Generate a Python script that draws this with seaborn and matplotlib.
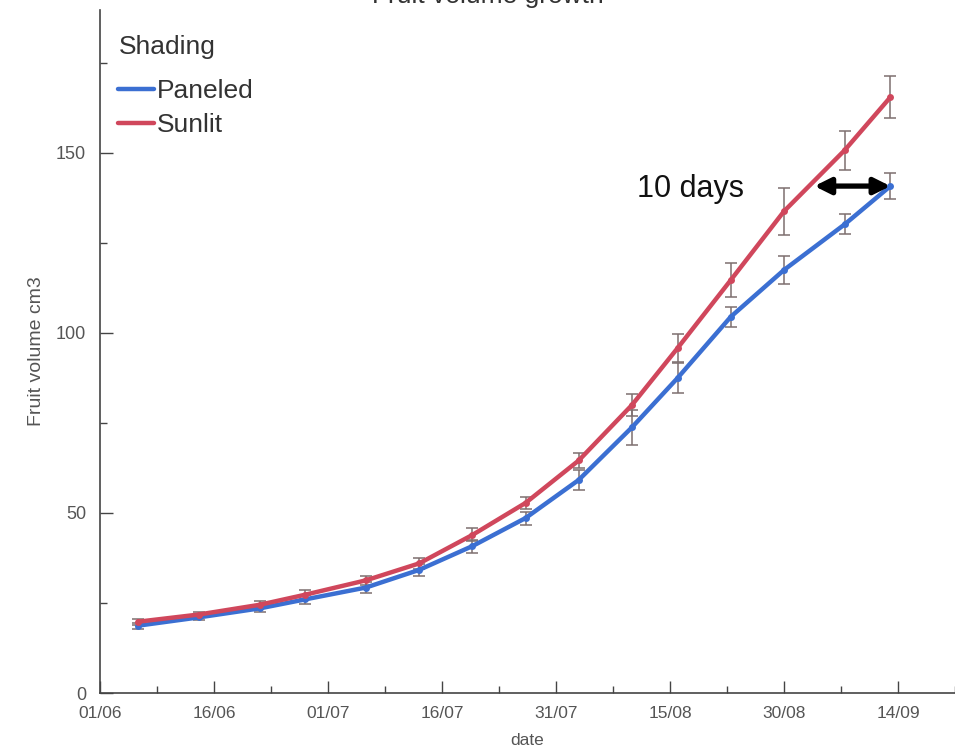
import matplotlib
matplotlib.use("Agg")
import matplotlib.pyplot as plt
import matplotlib.dates as mdates
import numpy as np
import pandas as pd
import seaborn as sns

# Measurement dates and mean fruit volume (cm3) with error half-widths
dates = ["2021-06-06", "2021-06-14", "2021-06-22", "2021-06-28", "2021-07-06",
         "2021-07-13", "2021-07-20", "2021-07-27", "2021-08-03", "2021-08-10",
         "2021-08-16", "2021-08-23", "2021-08-30", "2021-09-07", "2021-09-13"]
paneled = [18.7, 21.0, 23.5, 26.0, 29.3, 34.2, 40.8, 48.6, 59.2, 73.8,
           87.5, 104.5, 117.5, 130.2, 140.8]
paneled_err = [0.8, 0.8, 1.0, 1.2, 1.4, 1.6, 1.8, 1.8, 2.8, 4.9,
               4.2, 2.8, 3.9, 2.8, 3.6]
sunlit = [19.8, 21.8, 24.5, 27.3, 31.3, 36.0, 43.9, 52.8, 64.6, 80.0,
          95.8, 114.7, 133.8, 150.8, 165.5]
sunlit_err = [0.8, 0.8, 1.0, 1.2, 1.3, 1.5, 1.8, 1.6, 2.0, 3.0,
              3.9, 4.7, 6.5, 5.4, 5.8]
groups = ["Paneled", "Sunlit"]
colors = ["#3b6fd2", "#d0475c"]
tick_dates = ["2021-06-01", "2021-06-16", "2021-07-01", "2021-07-16",
              "2021-07-31", "2021-08-15", "2021-08-30", "2021-09-14"]
gap_days = 10

df = pd.DataFrame({
    "date": pd.to_datetime(dates * 2),
    "volume": paneled + sunlit,
    "err": paneled_err + sunlit_err,
    "Shading": [groups[0]] * len(dates) + [groups[1]] * len(dates),
})

sns.set_style("white")
plt.rcParams["font.family"] = ["Liberation Sans", "DejaVu Sans"]

fig = plt.figure(figsize=(9.55, 7.54), dpi=100)
ax = fig.add_axes([0.1047, 0.0809, 0.8953, 0.9058])

palette = dict(zip(groups, colors))
for g in groups:
    sub = df[df["Shading"] == g]
    ax.errorbar(sub["date"], sub["volume"], yerr=sub["err"], fmt="none",
                ecolor="#7d6f6f", elinewidth=1.1, capsize=4, capthick=1.1,
                zorder=2)
sns.lineplot(data=df, x="date", y="volume", hue="Shading", palette=palette,
             linewidth=3.2, marker="o", markersize=5, markeredgewidth=0,
             ax=ax, zorder=3)

# Axes limits and ticks
ticks = pd.to_datetime(tick_dates)
ax.set_xlim(ticks[0], ticks[0] + pd.Timedelta(days=111.8))
ax.set_ylim(0, 189.7)
ax.set_xticks(ticks)
ax.xaxis.set_major_formatter(mdates.DateFormatter("%d/%m"))
minor_x = list(ticks[:-1] + pd.Timedelta(hours=180)) + [ticks[-1] + pd.Timedelta(hours=180)]
ax.set_xticks(minor_x, minor=True)
ax.set_yticks([0, 50, 100, 150])
ax.set_yticks([25, 75, 125, 175], minor=True)
ax.tick_params(axis="both", which="both", bottom=True, left=True,
               direction="in", color="#444444", width=1.0)
ax.tick_params(axis="both", which="major", length=9,
               labelcolor="#555555")
ax.tick_params(axis="both", which="minor", length=5)
ax.tick_params(axis="x", which="major", labelsize=12.5, pad=9)
ax.tick_params(axis="y", which="major", labelsize=13, pad=10)

for side in ["top", "right"]:
    ax.spines[side].set_visible(False)
for side in ["left", "bottom"]:
    ax.spines[side].set_color("#444444")
    ax.spines[side].set_linewidth(1.2)

ax.set_xlabel("date", fontsize=12.5, color="#555555", labelpad=9)
ax.set_ylabel("Fruit volume cm3", fontsize=14, color="#555555", labelpad=8)

# Legend
leg = ax.legend(title="Shading", loc="upper left", bbox_to_anchor=(0.0, 0.99),
                frameon=False, fontsize=19, title_fontsize=19,
                handlelength=1.35, handletextpad=0.1, borderaxespad=0.3,
                labelspacing=0.38, markerscale=0)
leg._legend_box.align = "left"
leg._legend_box.sep = 14
for t in leg.get_texts():
    t.set_color("#333333")
leg.get_title().set_color("#333333")
for h in leg.legend_handles:
    h.set_linewidth(3.2)
    h.set_marker("")

# Title, partly above the canvas
fig.text(0.511, 1.005, "Fruit volume growth", ha="center", va="center",
         fontsize=19, color="#333333")

# Ten-day gap annotation at the final Paneled volume
end_date = pd.to_datetime(dates[-1])
start_date = end_date - pd.Timedelta(days=gap_days)
ax.annotate("", xy=(end_date, paneled[-1]), xytext=(start_date, paneled[-1]),
            arrowprops=dict(arrowstyle="<|-|>", color="black", lw=3.8,
                            mutation_scale=24, shrinkA=0, shrinkB=0),
            zorder=5)
ax.text(start_date - pd.Timedelta(days=9.3), paneled[-1] - 0.8,
        f"{gap_days} days", ha="right", va="center", fontsize=22,
        color="#111111")

fig.savefig("out.png", dpi=100)
